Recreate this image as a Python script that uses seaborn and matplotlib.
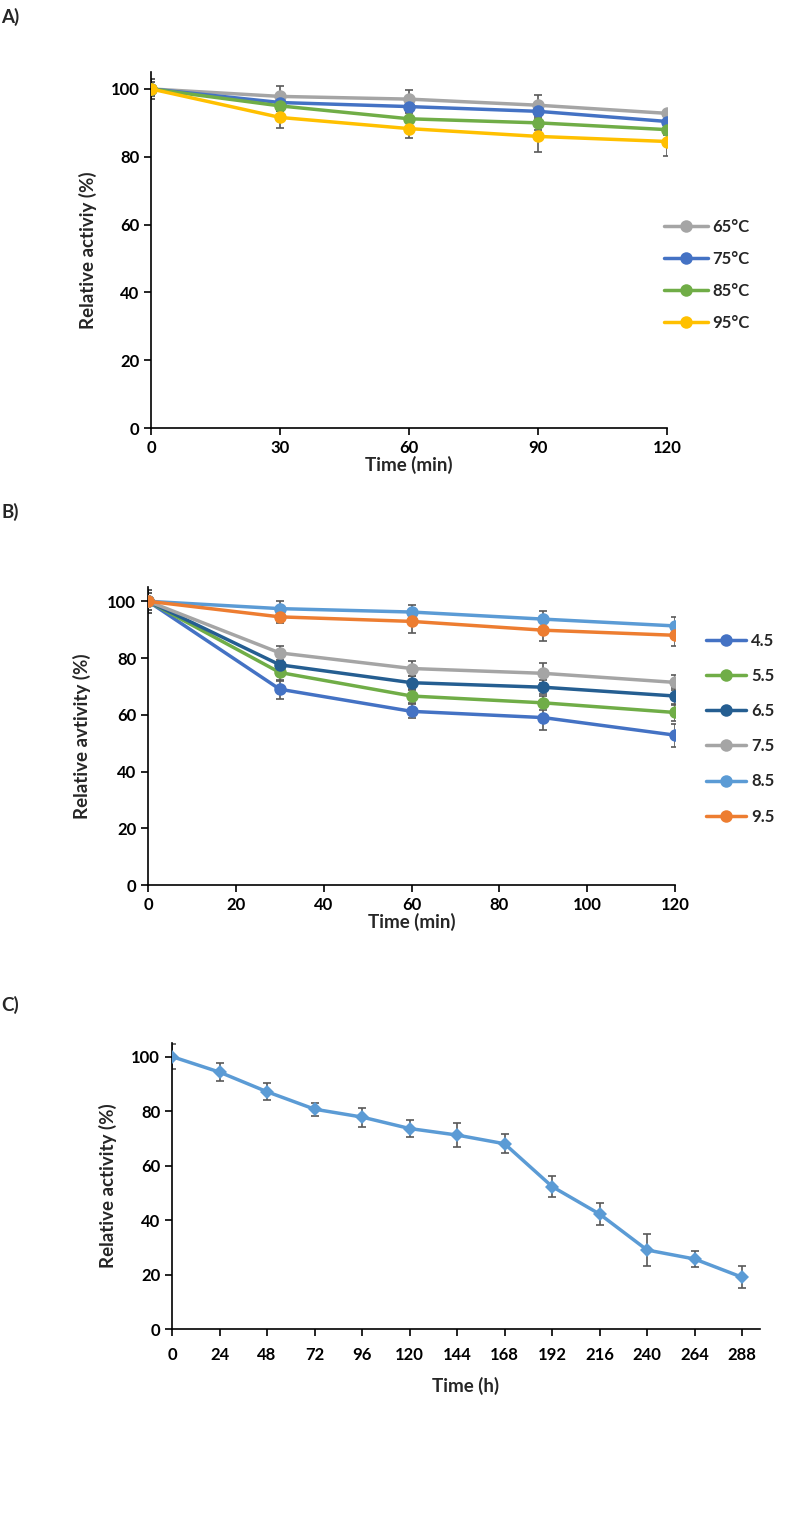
import numpy as np
import pandas as pd
import matplotlib.pyplot as plt
import seaborn as sns

sns.set_style("white")
plt.rcParams['font.family'] = ['Lato', 'DejaVu Sans']
plt.rcParams['font.weight'] = 'bold'
plt.rcParams['axes.labelweight'] = 'bold'

# ---- panel A : thermal stability ----
time_a = [0, 30, 60, 90, 120]
temps = ['65°C', '75°C', '85°C', '95°C']
act_65 = [100, 97.8, 97.0, 95.2, 92.8]
act_75 = [100, 96.0, 94.8, 93.4, 90.4]
act_85 = [100, 95.0, 91.2, 90.0, 88.0]
act_95 = [100, 91.6, 88.3, 86.0, 84.5]
err_65 = [3, 3.2, 2.8, 3.0, 1.0]
err_75 = [2, 2.5, 2.0, 2.0, 1.5]
err_85 = [2, 1.5, 2.0, 2.0, 1.5]
err_95 = [3, 3.2, 2.8, 4.5, 4.3]
colors_a = ['#A5A5A5', '#4472C4', '#70AD47', '#FFC000']

# ---- panel B : pH stability ----
time_b = [0, 30, 60, 90, 120]
phs = ['4.5', '5.5', '6.5', '7.5', '8.5', '9.5']
act_45 = [100, 69.0, 61.2, 59.0, 52.8]
act_55 = [100, 74.9, 66.6, 64.2, 60.8]
act_65b = [100, 77.6, 71.3, 69.7, 66.6]
act_75b = [100, 81.8, 76.3, 74.6, 71.4]
act_85b = [100, 97.4, 96.2, 93.7, 91.3]
act_95b = [100, 94.5, 92.9, 89.8, 88.0]
err_45 = [4, 3.3, 2.5, 4.5, 4.0]
err_55 = [3, 3.0, 2.5, 2.5, 3.0]
err_65b = [3, 3.0, 2.5, 2.5, 3.0]
err_75b = [3, 2.5, 2.5, 3.5, 2.6]
err_85b = [4, 2.6, 2.5, 2.8, 3.0]
err_95b = [4, 2.0, 4.2, 3.9, 3.6]
colors_b = ['#4472C4', '#70AD47', '#255E91', '#A5A5A5', '#5B9BD5', '#ED7D31']

# ---- panel C : storage stability ----
time_c = [0, 24, 48, 72, 96, 120, 144, 168, 192, 216, 240, 264, 288]
act_c = [100, 94.3, 87.1, 80.7, 77.8, 73.6, 71.2, 68.0, 52.3, 42.2, 29.0, 25.7, 19.0]
err_c = [4.5, 3.3, 3.2, 2.4, 3.5, 3.0, 4.5, 3.5, 3.7, 4.0, 5.7, 3.0, 4.0]

ERR_COLOR = '#595959'
TICK_FS = 12
LABEL_FS = 13.5

df_a = pd.DataFrame({'time': time_a * 4,
                     'activity': act_65 + act_75 + act_85 + act_95,
                     'cond': np.repeat(temps, len(time_a))})
errs_a = [err_65, err_75, err_85, err_95]

df_b = pd.DataFrame({'time': time_b * 6,
                     'activity': act_45 + act_55 + act_65b + act_75b + act_85b + act_95b,
                     'cond': np.repeat(phs, len(time_b))})
errs_b = [err_45, err_55, err_65b, err_75b, err_85b, err_95b]

df_c = pd.DataFrame({'time': time_c, 'activity': act_c})


def style_axis(ax):
    sns.despine(ax=ax)
    for s in ['left', 'bottom']:
        ax.spines[s].set_color('black')
        ax.spines[s].set_linewidth(1.2)
    ax.tick_params(axis='both', direction='out', length=5, width=1.2,
                   colors='black', labelsize=TICK_FS, left=True, bottom=True)
    for lab in ax.get_xticklabels() + ax.get_yticklabels():
        lab.set_fontweight('bold')
    ax.set_ylim(0, 105)
    ax.set_yticks([0, 20, 40, 60, 80, 100])


fig = plt.figure(figsize=(7.87, 15.32), dpi=100)

# A
ax_a = fig.add_axes([0.192, 0.7206, 0.656, 0.2324])
for d, e in zip([act_65, act_75, act_85, act_95], errs_a):
    ax_a.errorbar(time_a, d, yerr=e, fmt='none', ecolor=ERR_COLOR,
                  elinewidth=1.2, capsize=3, capthick=1.2, zorder=2)
sns.lineplot(data=df_a, x='time', y='activity', hue='cond', hue_order=temps,
             palette=colors_a, marker='o', markersize=9, markeredgewidth=0,
             linewidth=2.5, ax=ax_a, zorder=3)
ax_a.set_xlim(0, 120)
ax_a.set_xticks([0, 30, 60, 90, 120])
ax_a.set_xlabel('Time (min)', fontsize=LABEL_FS, fontweight='bold', labelpad=0)
ax_a.set_ylabel('Relative activiy (%)', fontsize=LABEL_FS, fontweight='bold', labelpad=10)
style_axis(ax_a)
ax_a.legend(frameon=False, loc='center left', bbox_to_anchor=(0.965, 0.43),
            labelspacing=0.95, handlelength=2.6, handletextpad=0.3,
            prop={'weight': 'bold', 'size': TICK_FS})

# B
ax_b = fig.add_axes([0.188, 0.4223, 0.670, 0.1945])
for d, e in zip([act_45, act_55, act_65b, act_75b, act_85b, act_95b], errs_b):
    ax_b.errorbar(time_b, d, yerr=e, fmt='none', ecolor=ERR_COLOR,
                  elinewidth=1.2, capsize=3, capthick=1.2, zorder=2)
sns.lineplot(data=df_b, x='time', y='activity', hue='cond', hue_order=phs,
             palette=colors_b, marker='o', markersize=9, markeredgewidth=0,
             linewidth=2.5, ax=ax_b, zorder=3)
ax_b.set_xlim(0, 120)
ax_b.set_xticks([0, 20, 40, 60, 80, 100, 120])
ax_b.set_xlabel('Time (min)', fontsize=LABEL_FS, fontweight='bold', labelpad=0)
ax_b.set_ylabel('Relative avtivity (%)', fontsize=LABEL_FS, fontweight='bold', labelpad=12)
style_axis(ax_b)
ax_b.legend(frameon=False, loc='center left', bbox_to_anchor=(1.03, 0.525),
            labelspacing=1.15, handlelength=2.4, handletextpad=0.3,
            prop={'weight': 'bold', 'size': TICK_FS})

# C
ax_c = fig.add_axes([0.2186, 0.1325, 0.747, 0.1867])
ax_c.errorbar(time_c, act_c, yerr=err_c, fmt='none', ecolor=ERR_COLOR,
              elinewidth=1.2, capsize=3, capthick=1.2, zorder=2)
sns.lineplot(data=df_c, x='time', y='activity', color='#5B9BD5', marker='D',
             markersize=7, markeredgewidth=0, linewidth=2.5, ax=ax_c, zorder=3)
ax_c.set_xlim(0, 297)
ax_c.set_xticks(time_c)
ax_c.tick_params(axis='x', pad=8)
ax_c.set_xlabel('Time (h)', fontsize=LABEL_FS, fontweight='bold', labelpad=10)
ax_c.set_ylabel('Relative activity (%)', fontsize=LABEL_FS, fontweight='bold', labelpad=10)
style_axis(ax_c)

for lbl, y in [('A)', 0.995), ('B)', 0.672), ('C)', 0.35)]:
    fig.text(0.002, y, lbl, fontsize=LABEL_FS, fontweight='bold', va='top')

fig.savefig('out.png', dpi=100, facecolor='white')
